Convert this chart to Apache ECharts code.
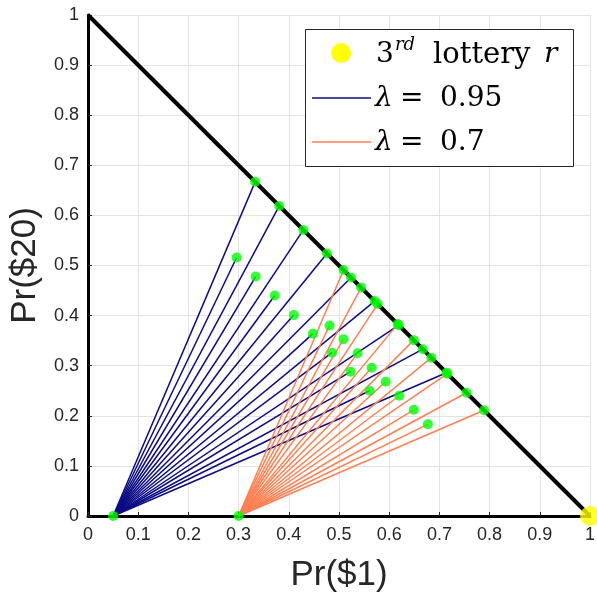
<!DOCTYPE html>
<html>
<head>
<meta charset="utf-8">
<script src="https://cdn.jsdelivr.net/npm/echarts@6/dist/echarts.min.js"></script>
<style>html,body{margin:0;padding:0;background:#fff;}#chart{width:597px;height:596px;}</style>
</head>
<body>
<div id="chart"></div>
<script>
// Tick values
var xTicks = [0, 0.1, 0.2, 0.3, 0.4, 0.5, 0.6, 0.7, 0.8, 0.9, 1];
var yTicks = [0, 0.1, 0.2, 0.3, 0.4, 0.5, 0.6, 0.7, 0.8, 0.9, 1];

// lambda = 0.95 : base point and line end points
var blueBase = [0.05, 0];
var blueEnds = [
  [0.333, 0.667], [0.381, 0.619], [0.429, 0.571], [0.476, 0.524], [0.524, 0.476],
  [0.571, 0.429], [0.619, 0.381], [0.667, 0.333], [0.714, 0.286],
  [0.296, 0.516], [0.334, 0.478], [0.372, 0.440], [0.410, 0.401], [0.448, 0.364],
  [0.486, 0.326], [0.523, 0.288], [0.561, 0.250]
];

// lambda = 0.7 : base point and line end points
var orangeBase = [0.3, 0];
var orangeEnds = [
  [0.509, 0.491], [0.544, 0.456], [0.577, 0.423], [0.617, 0.383], [0.649, 0.351],
  [0.684, 0.316], [0.716, 0.284], [0.754, 0.246], [0.789, 0.211],
  [0.481, 0.380], [0.509, 0.353], [0.537, 0.325], [0.565, 0.296], [0.593, 0.268],
  [0.620, 0.240], [0.649, 0.212], [0.677, 0.183]
];

// triangle hypotenuse and 3rd lottery
var hypotenuse = [[0, 1], [1, 0]];
var lotteryR = [[1, 0]];

var BLUE = '#0b0b85';
var ORANGE = '#ff7f50';
var GREEN = '#00ff00';

var series = [];
blueEnds.forEach(function (e) {
  series.push({type: 'line', data: [blueBase, e], symbol: 'none', silent: true,
    lineStyle: {color: BLUE, width: 1.5}, z: 2, clip: false});
});
orangeEnds.forEach(function (e) {
  series.push({type: 'line', data: [orangeBase, e], symbol: 'none', silent: true,
    lineStyle: {color: ORANGE, width: 1.5}, z: 3, clip: false});
});
series.push({type: 'line', data: hypotenuse, symbol: 'none', silent: true,
  lineStyle: {color: '#000', width: 4}, z: 4, clip: false});
series.push({type: 'scatter', data: blueEnds.concat(orangeEnds, [blueBase, orangeBase]),
  symbol: 'circle', symbolSize: 10, itemStyle: {color: GREEN}, z: 5, clip: false, silent: true});
series.push({type: 'scatter', data: lotteryR, symbol: 'circle', symbolSize: 20,
  itemStyle: {color: '#ffff00'}, z: 6, clip: false, silent: true});

var SERIF = '"DejaVu Serif"';
function txt(x, y, s, font) {
  return {type: 'text', x: x, y: y, z: 101,
    style: {text: s, font: font, fill: '#000', verticalAlign: 'middle'}};
}

var chart = echarts.init(document.getElementById('chart'), null, {renderer: 'canvas'});
chart.setOption({
  animation: false,
  backgroundColor: '#fff',
  grid: {left: 88, right: 7, top: 15, bottom: 80, containLabel: false, outerBoundsMode: 'none'},
  xAxis: {
    type: 'value', min: xTicks[0], max: xTicks[xTicks.length - 1], interval: 0.1,
    name: 'Pr($1)', nameLocation: 'middle', nameGap: 42,
    nameTextStyle: {fontFamily: 'Liberation Sans', fontSize: 35, color: '#262626'},
    axisLine: {show: true, lineStyle: {color: '#000', width: 3}},
    axisTick: {show: true, inside: true, length: 4, lineStyle: {color: '#262626'}},
    axisLabel: {fontFamily: 'Liberation Sans', fontSize: 18, color: '#262626', margin: 10},
    splitLine: {show: true, lineStyle: {color: '#e3e3e3', width: 1}}
  },
  yAxis: {
    type: 'value', min: yTicks[0], max: yTicks[yTicks.length - 1], interval: 0.1,
    name: 'Pr($20)', nameLocation: 'middle', nameGap: 42,
    nameTextStyle: {fontFamily: 'Liberation Sans', fontSize: 35, color: '#262626'},
    axisLine: {show: true, lineStyle: {color: '#000', width: 3}},
    axisTick: {show: true, inside: true, length: 4, lineStyle: {color: '#262626'}},
    axisLabel: {fontFamily: 'Liberation Sans', fontSize: 18, color: '#262626', margin: 9},
    splitLine: {show: true, lineStyle: {color: '#e3e3e3', width: 1}}
  },
  graphic: [
    {type: 'rect', shape: {x: 305.5, y: 29.5, width: 268, height: 137},
      style: {fill: '#fff', stroke: '#262626', lineWidth: 1}, z: 100},
    {type: 'circle', shape: {cx: 341, cy: 53, r: 10}, style: {fill: '#ffff00'}, z: 101},
    {type: 'line', shape: {x1: 312, y1: 98, x2: 371, y2: 98}, style: {stroke: BLUE, lineWidth: 1.5}, z: 101},
    {type: 'line', shape: {x1: 312, y1: 142, x2: 371, y2: 142}, style: {stroke: ORANGE, lineWidth: 1.5}, z: 101},
    txt(376, 55, '3', '28px ' + SERIF),
    txt(395, 45, 'rd', 'italic 18px ' + SERIF),
    txt(433, 55, 'lottery', '29px ' + SERIF),
    txt(544, 55, 'r', 'italic 28px ' + SERIF),
    txt(375, 99, 'λ', 'italic 28px ' + SERIF),
    txt(400, 99, '=', '28px ' + SERIF),
    txt(440, 99, '0.95', '28px ' + SERIF),
    txt(375, 143, 'λ', 'italic 28px ' + SERIF),
    txt(400, 143, '=', '28px ' + SERIF),
    txt(440, 143, '0.7', '28px ' + SERIF)
  ],
  series: series
});
</script>
</body>
</html>
